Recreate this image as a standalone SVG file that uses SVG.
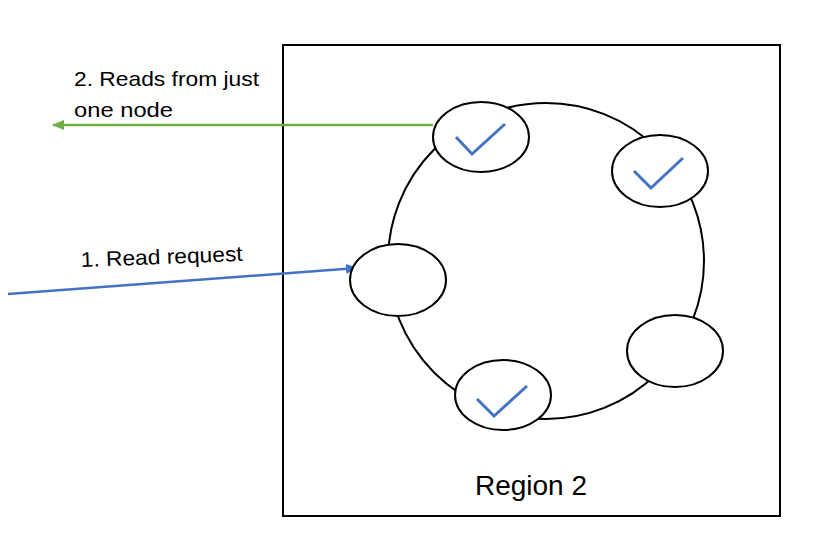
<svg xmlns="http://www.w3.org/2000/svg" width="818" height="548" viewBox="0 0 818 548">
<style>
.node{fill:#fff;stroke:#000;stroke-width:2}
.chk{fill:none;stroke:#4472C4;stroke-width:3}
.lbl{font-family:"Liberation Sans",Arial,sans-serif;fill:#000}
</style>
<defs>
<marker id="ag" markerWidth="12" markerHeight="10" refX="11" refY="5" orient="auto" markerUnits="userSpaceOnUse"><path d="M0,0 L12,5 L0,10 Z" fill="#70AD47"/></marker>
<marker id="ab" markerWidth="12" markerHeight="10" refX="11" refY="5" orient="auto" markerUnits="userSpaceOnUse"><path d="M0,0 L12,5 L0,10 Z" fill="#4472C4"/></marker>
</defs>
<rect width="818" height="548" fill="#fff"/>
<g id="region">
<rect x="283" y="45" width="497" height="471" fill="none" stroke="#000" stroke-width="2"/>
<text class="lbl" x="531" y="495" font-size="28" text-anchor="middle">Region 2</text>
</g>
<g id="ring"><circle cx="546" cy="261" r="158" fill="none" stroke="#000" stroke-width="2"/></g>
<g id="connectors">
<line x1="433" y1="125" x2="53" y2="125" stroke="#70AD47" stroke-width="2.5" marker-end="url(#ag)"/>
<line x1="8" y1="294" x2="357" y2="268" stroke="#4472C4" stroke-width="2.5" marker-end="url(#ab)"/>
<text class="lbl" x="74" y="86" font-size="21" textLength="185" lengthAdjust="spacingAndGlyphs">2. Reads from just</text>
<text class="lbl" x="74" y="117" font-size="21" textLength="99" lengthAdjust="spacingAndGlyphs">one node</text>
<text class="lbl" x="81" y="267" font-size="21" textLength="162" lengthAdjust="spacingAndGlyphs" transform="rotate(-2.2 81 267)">1. Read request</text>
</g>
<g id="node-top"><ellipse class="node" cx="481" cy="137" rx="48" ry="35"/><polyline class="chk" points="456,137 472,154 505,124"/></g>
<g id="node-topright"><ellipse class="node" cx="660" cy="171" rx="48" ry="36"/><polyline class="chk" points="634,171 651,188 683,158"/></g>
<g id="node-left"><ellipse class="node" cx="398" cy="280" rx="48" ry="36"/></g>
<g id="node-bottom"><ellipse class="node" cx="503" cy="395" rx="48" ry="35"/><polyline class="chk" points="477,399 494,416 527,386"/></g>
<g id="node-right"><ellipse class="node" cx="675" cy="351" rx="48" ry="36"/></g>
</svg>
